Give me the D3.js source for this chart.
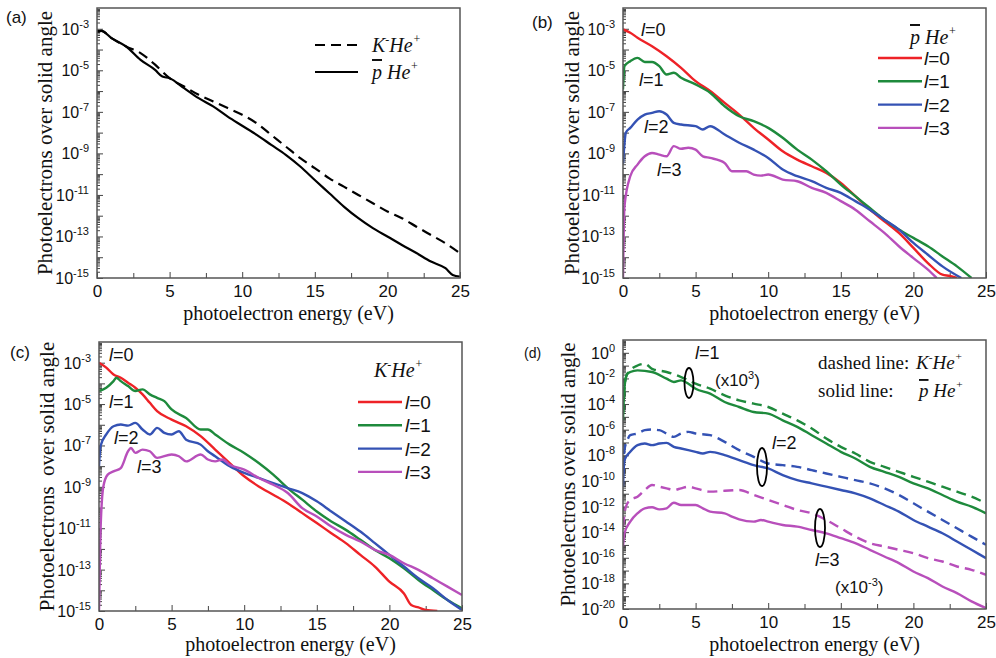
<!DOCTYPE html>
<html>
<head>
<meta charset="utf-8">
<title>Photoelectron spectra</title>
<style>
body { margin: 0; background: #ffffff; }
svg { display: block; }
</style>
</head>
<body>
<script src="https://cdn.jsdelivr.net/npm/d3@7"></script>
<script>

// values are log10 of the photoelectron yield, as [energy (eV), log10]
// panel (a)
var aKHe = [[0,-3.13],[0.3,-3.1],[1,-3.45],[2,-3.85],[3,-4.17],[4,-4.73],[5,-5.38],[6,-5.78],[7,-6.18],[8,-6.5],[9,-6.82],[10,-7.14],[11,-7.55],[12,-8.11],[13,-8.67],[14,-9.23],[15,-9.71],[16,-10.2],[17,-10.6],[18,-11.0],[19,-11.4],[20,-11.8],[21,-12.12],[22,-12.53],[23,-12.93],[24,-13.33],[25,-13.81]];
var aPHe = [[0,-3.13],[0.3,-3.1],[1,-3.45],[2,-3.85],[3,-4.5],[4,-4.98],[4.5,-5.3],[5,-5.38],[6,-5.86],[7,-6.34],[8,-6.74],[9,-7.23],[10,-7.67],[11,-8.11],[12,-8.59],[13,-9.07],[14,-9.63],[15,-10.28],[16,-10.92],[17,-11.56],[18,-12.12],[19,-12.6],[20,-13.0],[21,-13.41],[22,-13.8],[23,-14.21],[24,-14.53],[24.5,-14.85],[25,-14.93]];

// panel (b) pbar He+
var bL0 = [[0,-3.03],[0.5,-3.19],[1,-3.43],[2,-3.84],[3,-4.32],[4,-4.88],[5,-5.52],[6,-6.0],[7,-6.57],[8,-7.13],[9,-7.77],[10,-8.33],[11,-8.9],[12,-9.3],[13,-9.62],[14,-9.94],[15,-10.42],[16,-11.06],[17,-11.71],[18,-12.27],[19,-12.83],[20,-13.55],[21,-14.28],[22,-14.84],[22.5,-14.9],[23,-15]];
var bL1 = [[0,-5.92],[0.1,-4.8],[0.5,-4.56],[1,-4.4],[1.5,-4.6],[2,-4.6],[2.5,-4.8],[3,-5.2],[3.5,-5.12],[4,-5.36],[5,-5.68],[6,-6.08],[7,-6.73],[8,-7.21],[9,-7.45],[10,-7.77],[11,-8.25],[12,-8.82],[13,-9.3],[14,-9.86],[15,-10.5],[16,-11.06],[17,-11.63],[18,-12.19],[19,-12.67],[20,-13.07],[21,-13.47],[22,-13.96],[23,-14.44],[24,-15]];
var bL2 = [[0,-9.5],[0.2,-8.0],[0.5,-7.77],[1,-7.37],[1.5,-7.13],[2,-7.05],[2.5,-6.97],[3,-7.13],[3.5,-7.53],[4,-7.61],[5,-7.69],[5.5,-7.85],[6,-7.69],[7,-8.09],[8,-8.49],[9,-8.82],[10,-9.22],[11,-9.78],[12,-10.1],[13,-10.34],[14,-10.66],[15,-10.9],[16,-11.3],[17,-11.71],[18,-12.19],[19,-12.67],[20,-13.31],[21,-13.88],[22,-14.44],[23.3,-15]];
var bL3 = [[0,-15],[0.1,-11.55],[0.5,-10.1],[1,-9.54],[1.5,-9.14],[2,-8.98],[2.5,-9.06],[3,-9.14],[3.5,-8.65],[4,-8.78],[4.5,-8.73],[5,-8.82],[5.5,-9.14],[6,-9.22],[7,-9.46],[7.5,-9.86],[8,-9.86],[8.5,-9.86],[9,-10.02],[9.5,-10.07],[10,-10.02],[11,-10.26],[12,-10.34],[13,-10.66],[14,-10.9],[15,-11.3],[16,-11.71],[17,-12.27],[18,-12.83],[19,-13.47],[20,-14.04],[21,-14.6],[21.6,-15]];

// panel (c) K- He+
var cL0 = [[0,-3.0],[0.5,-3.24],[1,-3.57],[1.5,-3.73],[2,-3.97],[2.5,-4.21],[3,-4.53],[3.5,-4.94],[4,-5.34],[5,-5.75],[6,-6.07],[7,-6.55],[8,-7.2],[9,-7.85],[10,-8.49],[11,-8.98],[12,-9.38],[13,-9.79],[14,-10.27],[15,-10.75],[16,-11.24],[17,-11.72],[18,-12.29],[19,-12.85],[20,-13.58],[21,-14.15],[21.5,-14.71],[22,-14.83],[22.5,-14.95],[23.3,-15]];
var cL1 = [[0,-4.37],[0.5,-4.21],[1,-3.89],[1.2,-3.73],[1.5,-3.89],[2,-4.13],[2.5,-4.37],[3,-4.29],[3.5,-4.53],[4,-4.7],[4.5,-4.86],[5,-5.26],[6,-5.67],[7,-6.23],[7.5,-6.23],[8,-6.47],[9,-6.96],[10,-7.36],[11,-7.85],[12,-8.41],[13,-9.06],[14,-9.62],[15,-10.19],[16,-10.67],[17,-11.08],[18,-11.56],[19,-12.05],[20,-12.45],[21,-12.94],[22,-13.5],[23,-13.99],[24,-14.47],[25,-14.87]];
var cL2 = [[0,-8.0],[0.1,-7.04],[0.5,-6.47],[1,-6.07],[1.5,-5.99],[2,-6.04],[2.5,-5.91],[3,-6.23],[3.5,-6.47],[4,-6.15],[4.5,-6.39],[5,-6.47],[5.5,-6.31],[6,-6.72],[7,-6.96],[7.5,-7.28],[8,-7.52],[9,-8.0],[10,-8.33],[11,-8.57],[12,-8.82],[13,-9.06],[14,-9.3],[15,-9.7],[16,-10.19],[17,-10.67],[18,-11.16],[19,-11.72],[20,-12.29],[21,-12.85],[22,-13.42],[23,-13.9],[24,-14.47],[25,-14.95]];
var cL3 = [[0,-14.95],[0.1,-11.24],[0.3,-8.98],[0.6,-8.41],[1,-8.25],[1.5,-8.09],[2,-7.28],[2.2,-7.12],[2.5,-7.36],[3,-7.2],[3.5,-7.28],[4,-7.6],[5,-7.44],[5.5,-7.52],[6,-7.77],[7,-7.44],[7.5,-7.68],[8,-7.77],[8.5,-7.68],[9,-7.93],[10,-8.17],[11,-8.57],[12,-8.9],[13,-9.3],[14,-10.03],[15,-10.43],[16,-10.92],[17,-11.32],[18,-11.64],[19,-12.05],[20,-12.29],[21,-12.69],[22,-13.01],[23,-13.42],[24,-13.82],[25,-14.23]];

// panel (d) scaled comparison, solid = pbar He+, dashed = K- He+
var dL1p = [[0,-5.27],[0.1,-2.67],[0.3,-1.63],[0.5,-1.5],[1,-1.37],[2,-1.5],[3,-2.02],[3.5,-2.28],[4,-2.15],[4.5,-2.41],[5,-2.8],[6,-3.19],[7,-3.84],[8,-4.23],[9,-4.62],[10,-4.75],[11,-5.27],[12,-5.78],[13,-6.43],[14,-7.08],[15,-7.73],[16,-8.25],[17,-8.9],[18,-9.29],[19,-9.68],[20,-10.19],[21,-10.58],[22,-11.1],[23,-11.62],[24,-12.01],[25,-12.53]];
var dL1k = [[0,-4.75],[0.2,-1.89],[0.5,-1.37],[1,-0.99],[1.5,-0.86],[2,-1.25],[3,-1.5],[4,-1.89],[5,-2.41],[6,-2.8],[7,-3.32],[8,-3.71],[9,-3.97],[10,-4.23],[11,-4.75],[12,-5.27],[13,-5.91],[14,-6.69],[15,-7.34],[16,-7.86],[17,-8.51],[18,-8.9],[19,-9.29],[20,-9.68],[21,-10.06],[22,-10.45],[23,-10.84],[24,-11.23],[25,-11.75]];
var dL2p = [[0,-10.45],[0.1,-8.38],[0.5,-7.73],[1,-7.21],[1.5,-7.08],[2,-7.21],[2.5,-7.08],[3,-7.03],[3.5,-7.34],[4,-7.47],[4.5,-7.6],[5,-7.73],[5.5,-7.86],[6,-7.73],[7,-7.99],[8,-8.38],[9,-8.77],[10,-9.03],[11,-9.55],[12,-9.94],[13,-10.19],[14,-10.45],[15,-10.71],[16,-10.97],[17,-11.36],[18,-11.88],[19,-12.4],[20,-13.05],[21,-13.57],[22,-14.09],[23,-14.73],[24,-15.38],[25,-16.03]];
var dL2k = [[0,-9.16],[0.1,-7.6],[0.3,-6.82],[0.5,-6.43],[1,-6.3],[1.5,-6.04],[2,-5.99],[2.5,-6.04],[3,-6.3],[3.5,-6.56],[4,-6.3],[4.5,-6.17],[5,-6.3],[6,-6.43],[7,-6.95],[8,-7.6],[9,-8.12],[10,-8.64],[11,-8.77],[12,-8.9],[13,-9.16],[14,-9.42],[15,-9.68],[16,-9.94],[17,-10.19],[18,-10.58],[19,-11.1],[20,-11.75],[21,-12.4],[22,-13.05],[23,-13.7],[24,-14.35],[25,-14.99]];
var dL3p = [[0,-15.12],[0.1,-14.09],[0.5,-13.18],[1,-12.53],[1.5,-12.14],[2,-12.06],[2.5,-12.22],[3,-12.14],[3.5,-11.7],[4,-11.88],[4.5,-11.88],[5,-11.88],[5.5,-12.14],[6,-12.4],[7,-12.53],[7.5,-12.79],[8,-13.0],[9,-13.18],[9.5,-13.05],[10,-13.18],[11,-13.44],[12,-13.57],[13,-13.83],[14,-14.09],[15,-14.47],[16,-14.86],[17,-15.38],[18,-15.9],[19,-16.42],[20,-17.07],[21,-17.59],[22,-18.24],[23,-18.76],[24,-19.4],[25,-19.92]];
var dL3k = [[0,-13.57],[0.2,-12.01],[0.5,-11.49],[1,-11.23],[1.5,-10.71],[2,-10.32],[2.5,-10.45],[3,-10.58],[3.5,-10.71],[4,-10.58],[4.5,-10.45],[5,-10.58],[6,-10.84],[7,-10.77],[8,-10.71],[9,-11.1],[10,-11.49],[11,-11.88],[12,-12.27],[13,-12.53],[14,-13.05],[15,-13.7],[16,-14.35],[17,-14.86],[18,-15.12],[19,-15.38],[20,-15.64],[21,-16.03],[22,-16.29],[23,-16.68],[24,-16.94],[25,-17.33]];

var xTicks = [0, 5, 10, 15, 20, 25];
var xMinor = [2.5, 7.5, 12.5, 17.5, 22.5];
var lLabels = ["0", "1", "2", "3"];

var col = {l0: "#ee2227", l1: "#1e8a3c", l2: "#3452b4", l3: "#b84fbb", k: "#000000"};

var W = 996, H = 658;
var svg = d3.select("body").append("svg").attr("width", W).attr("height", H);

var serif = "'Liberation Serif', 'Times New Roman', serif";
var sans = "'Liberation Sans', Arial, sans-serif";

function drawPanel(p) {
  var x = d3.scaleLinear().domain([0, 25]).range([p.left, p.right]);
  var y = d3.scaleLog().domain([Math.pow(10, p.yMin), Math.pow(10, p.yMax)]).range([p.bottom, p.top]);
  var g = svg.append("g");

  g.append("clipPath").attr("id", "clip" + p.id)
    .append("rect").attr("x", p.left).attr("y", p.top)
    .attr("width", p.right - p.left).attr("height", p.bottom - p.top);

  // y ticks, inward
  var major = [], minor = [];
  for (var k = p.yMin; k < p.yMax; k++) {
    major.push(Math.pow(10, k));
    for (var m = 2; m < 10; m++) minor.push(m * Math.pow(10, k));
  }
  g.append("g").attr("transform", "translate(" + p.left + ",0)")
    .call(d3.axisLeft(y).tickValues(minor).tickSizeInner(-3).tickSizeOuter(0).tickFormat(""))
    .call(function(s) { s.select(".domain").remove(); s.selectAll("line").attr("stroke", "#444"); });
  g.append("g").attr("transform", "translate(" + p.left + ",0)")
    .call(d3.axisLeft(y).tickValues(major).tickSizeInner(-6).tickSizeOuter(0).tickFormat(""))
    .call(function(s) { s.select(".domain").remove(); s.selectAll("line").attr("stroke", "#444"); });

  // y labels 10^n
  var labs = [];
  for (var e = p.yMin; e <= p.yMax; e++) if ((e - p.labelStart) % p.labelStep === 0 && e <= p.labelStart) labs.push(e);
  labs.forEach(function(e) {
    var t = g.append("text").attr("x", p.left - 8).attr("y", y(Math.pow(10, e)) + 6)
      .attr("text-anchor", "end").attr("font-family", sans).attr("font-size", 16).attr("fill", "#111");
    t.append("tspan").text("10");
    t.append("tspan").attr("dy", -7).attr("font-size", 11).text(e);
  });

  // x ticks
  g.append("g").attr("transform", "translate(0," + p.bottom + ")")
    .call(d3.axisBottom(x).tickValues(xMinor).tickSizeInner(-5).tickSizeOuter(0).tickFormat(""))
    .call(function(s) { s.select(".domain").remove(); s.selectAll("line").attr("stroke", "#444"); });
  g.append("g").attr("transform", "translate(0," + p.bottom + ")")
    .call(d3.axisBottom(x).tickValues(xTicks).tickSizeInner(-6).tickSizeOuter(0).tickPadding(7).tickFormat(d3.format("d")))
    .call(function(s) {
      s.select(".domain").remove();
      s.selectAll("line").attr("stroke", "#444");
      s.selectAll("text").attr("font-family", sans).attr("font-size", 17).attr("fill", "#111");
    });

  // curves
  var line = d3.line()
    .x(function(d) { return x(d[0]); })
    .y(function(d) { return y(Math.pow(10, d[1])); })
    .curve(d3.curveMonotoneX);
  var cg = g.append("g").attr("clip-path", "url(#clip" + p.id + ")");
  p.series.forEach(function(s) {
    cg.append("path").datum(s.data).attr("d", line)
      .attr("fill", "none").attr("stroke", s.color).attr("stroke-width", s.w || 2.4)
      .attr("stroke-dasharray", s.dash ? "10,6" : null)
      .attr("stroke-linejoin", "round");
  });

  // frame
  g.append("rect").attr("x", p.left).attr("y", p.top)
    .attr("width", p.right - p.left).attr("height", p.bottom - p.top)
    .attr("fill", "none").attr("stroke", "#555").attr("stroke-width", 1.5);

  // axis titles
  g.append("text").attr("x", (p.left + p.right) / 2 + 10).attr("y", p.xTitleY)
    .attr("text-anchor", "middle").attr("font-family", serif).attr("font-size", 20).attr("fill", "#111")
    .text("photoelectron energy (eV)");
  g.append("text").attr("transform", "translate(" + p.yTitleX + "," + ((p.top + p.bottom) / 2) + ") rotate(-90)")
    .attr("text-anchor", "middle").attr("font-family", serif).attr("font-size", 21).attr("fill", "#111")
    .attr("xml:space", "preserve")
    .text(p.yTitle);

  g.append("text").attr("x", p.tagX).attr("y", p.tagY)
    .attr("font-family", sans).attr("font-size", p.tagSize).attr("fill", "#111").text("(" + p.id + ")");

  return {x: x, y: y, g: g};
}

// species label like K-He+ or pbar He+
function species(g, xx, yy, kind, size) {
  var t = g.append("text").attr("x", xx).attr("y", yy).attr("font-family", serif)
    .attr("font-style", "italic").attr("font-size", size).attr("fill", "#111");
  if (kind === "K") {
    t.append("tspan").text("K");
    t.append("tspan").attr("dy", -8).attr("font-size", size * 0.6).text("-");
    t.append("tspan").attr("dy", 8).text("He");
  } else {
    t.append("tspan").attr("text-decoration", "overline").text("p");
    t.append("tspan").text(" He");
  }
  t.append("tspan").attr("dy", -9).attr("font-size", size * 0.6).text("+");
  return t;
}

function lText(g, xx, yy, n, size, color) {
  var t = g.append("text").attr("x", xx).attr("y", yy).attr("font-family", sans)
    .attr("font-size", size).attr("fill", color || "#111");
  t.append("tspan").attr("font-style", "italic").text("l");
  t.append("tspan").text("=" + n);
}

// (a)
var A = drawPanel({
  id: "a", left: 97, right: 460, top: 8, bottom: 278, yMin: -15, yMax: -2,
  labelStart: -3, labelStep: 2, xTitleY: 320, yTitleX: 52,
  yTitle: "Photoelectrons over solid angle", tagX: 6, tagY: 23, tagSize: 17,
  series: [
    {data: aKHe, color: col.k, dash: true, w: 2.2},
    {data: aPHe, color: col.k, w: 2.2}
  ]
});
A.g.append("line").attr("x1", 315).attr("x2", 358).attr("y1", 45).attr("y2", 45)
  .attr("stroke", "#000").attr("stroke-width", 2.2).attr("stroke-dasharray", "10,6");
A.g.append("line").attr("x1", 315).attr("x2", 358).attr("y1", 72).attr("y2", 72)
  .attr("stroke", "#000").attr("stroke-width", 2.2);
species(A.g, 372, 52, "K", 20);
species(A.g, 372, 79, "P", 20);

// (b)
var bData = [bL0, bL1, bL2, bL3];
var lCols = [col.l0, col.l1, col.l2, col.l3];
var B = drawPanel({
  id: "b", left: 623, right: 986, top: 8, bottom: 278, yMin: -15, yMax: -2,
  labelStart: -3, labelStep: 2, xTitleY: 320, yTitleX: 579,
  yTitle: "Photoelectrons over solid angle", tagX: 532, tagY: 28, tagSize: 17,
  series: bData.map(function(d, i) { return {data: d, color: lCols[i]}; })
});
species(B.g, 910, 44, "P", 20);
lLabels.forEach(function(n, i) {
  var yy = 58 + i * 23.3;
  B.g.append("line").attr("x1", 878).attr("x2", 922).attr("y1", yy).attr("y2", yy)
    .attr("stroke", lCols[i]).attr("stroke-width", 2.4);
  lText(B.g, 924, yy + 7, n, 19);
});
lText(B.g, 641, 36, "0", 18);
lText(B.g, 639, 86, "1", 18);
lText(B.g, 644, 133, "2", 18);
lText(B.g, 657, 176, "3", 18);

// (c)
var cData = [cL0, cL1, cL2, cL3];
var C = drawPanel({
  id: "c", left: 99, right: 462, top: 342, bottom: 611, yMin: -15, yMax: -2,
  labelStart: -3, labelStep: 2, xTitleY: 651, yTitleX: 54,
  yTitle: "Photoelectrons  over solid angle", tagX: 10, tagY: 358, tagSize: 17,
  series: cData.map(function(d, i) { return {data: d, color: lCols[i]}; })
});
species(C.g, 374, 377, "K", 20);
lLabels.forEach(function(n, i) {
  var yy = 402 + i * 23.3;
  C.g.append("line").attr("x1", 358).attr("x2", 402).attr("y1", yy).attr("y2", yy)
    .attr("stroke", lCols[i]).attr("stroke-width", 2.4);
  lText(C.g, 405, yy + 7, n, 19);
});
lText(C.g, 109, 361, "0", 18);
lText(C.g, 109, 408, "1", 18);
lText(C.g, 114, 444, "2", 18);
lText(C.g, 137, 473, "3", 18);

// (d)
var D = drawPanel({
  id: "d", left: 623, right: 986, top: 340, bottom: 609, yMin: -20, yMax: 1,
  labelStart: 0, labelStep: 2, xTitleY: 651, yTitleX: 575,
  yTitle: "Photoelectrons over solid angle", tagX: 524, tagY: 358, tagSize: 14,
  series: [
    {data: dL1k, color: col.l1, dash: true},
    {data: dL1p, color: col.l1},
    {data: dL2k, color: col.l2, dash: true},
    {data: dL2p, color: col.l2},
    {data: dL3k, color: col.l3, dash: true},
    {data: dL3p, color: col.l3}
  ]
});
D.g.append("text").attr("x", 818).attr("y", 369).attr("font-family", serif).attr("font-size", 19)
  .attr("fill", "#111").text("dashed line:");
species(D.g, 916, 369, "K", 19);
D.g.append("text").attr("x", 818).attr("y", 397).attr("font-family", serif).attr("font-size", 19)
  .attr("fill", "#111").text("solid line:");
species(D.g, 919, 397, "P", 19);

[[689, 383, 4.5, 15], [762, 467, 5, 19], [820, 528, 5, 19]].forEach(function(e) {
  D.g.append("ellipse").attr("cx", e[0]).attr("cy", e[1]).attr("rx", e[2]).attr("ry", e[3])
    .attr("fill", "none").attr("stroke", "#000").attr("stroke-width", 1.8);
});
lText(D.g, 695, 359, "1", 18);
lText(D.g, 772, 449, "2", 18);
lText(D.g, 815, 566, "3", 18);
function scaleNote(xx, yy, p) {
  var t = D.g.append("text").attr("x", xx).attr("y", yy).attr("font-family", sans)
    .attr("font-size", 17).attr("fill", "#111");
  t.append("tspan").text("(x10");
  t.append("tspan").attr("dy", -7).attr("font-size", 11).text(p);
  t.append("tspan").attr("dy", 7).text(")");
}
scaleNote(715, 386, "3");
scaleNote(835, 593, "-3");

</script>
</body>
</html>
